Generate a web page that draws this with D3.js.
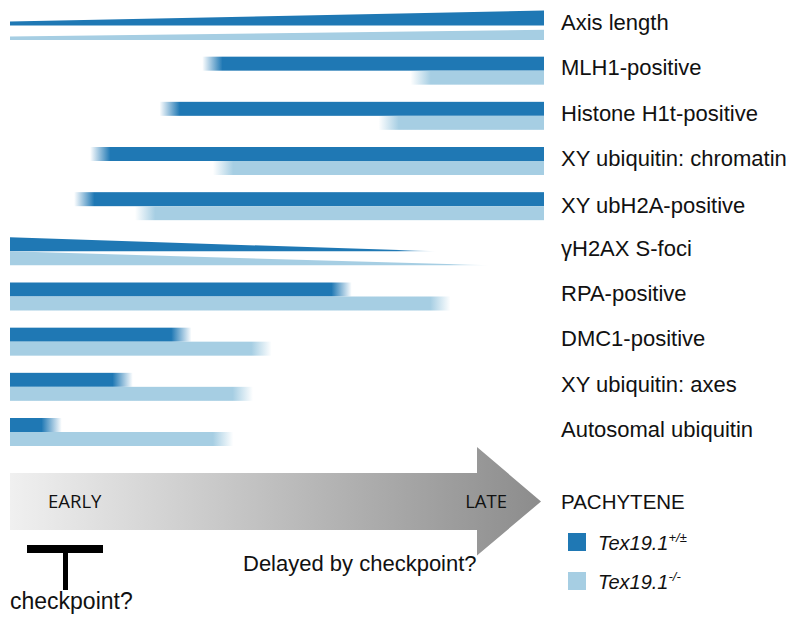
<!DOCTYPE html>
<html><head><meta charset="utf-8">
<script src="https://cdn.jsdelivr.net/npm/d3@7"></script>
<style>body{margin:0;background:#fff}svg{display:block}</style>
</head><body><svg id="c" width="800" height="625"></svg>
<script>
// ---- data ----
const categories = ["Axis length","MLH1-positive","Histone H1t-positive","XY ubiquitin: chromatin","XY ubH2A-positive","γH2AX S-foci","RPA-positive","DMC1-positive","XY ubiquitin: axes","Autosomal ubiquitin"];
const shapes = ["grow","onset","onset","onset","onset","decline","offset","offset","offset","offset"];
const wtStart = [0, 36, 28, 15, 12, 0, 0, 0, 0, 0];
const wtEnd   = [100, 100, 100, 100, 100, 80, 64, 34, 23, 9.7];
const koStart = [0, 75, 69, 38, 23.4, 0, 0, 0, 0, 0];
const koEnd   = [100, 100, 100, 100, 100, 90, 82.5, 49, 45.5, 41.8];
const fadeLen = 3.8;
const seriesNames = ["Tex19.1", "Tex19.1"];
const seriesSup = ["+/±", "-/-"];
const colors = ["#1f78b4", "#a6cee3"];
const stageLabels = ["EARLY", "LATE"];

const svg = d3.select("#c");
const defs = svg.append("defs");
const x = d3.scaleLinear().domain([0, 100]).range([10, 544]);
const y = d3.scalePoint().domain(categories).range([25.5, 432]);
const bh = 14;

let gid = 0;
function grad(x1, x2, color, o1, o2) {
  const id = "g" + (gid++);
  const g = defs.append("linearGradient").attr("id", id)
    .attr("gradientUnits", "userSpaceOnUse")
    .attr("x1", x1).attr("x2", x2).attr("y1", 0).attr("y2", 0);
  g.append("stop").attr("offset", 0).attr("stop-color", color).attr("stop-opacity", o1);
  g.append("stop").attr("offset", 1).attr("stop-color", color).attr("stop-opacity", o2);
  return "url(#" + id + ")";
}

const gBars = svg.append("g");
categories.forEach((cat, i) => {
  const b = y(cat);
  const sh = shapes[i];
  [[wtStart[i], wtEnd[i], 0], [koStart[i], koEnd[i], 1]].forEach(([s, e, k]) => {
    const col = colors[k];
    const top = k === 0 ? b - bh : b;
    if (sh === "grow") {
      const pts = k === 0
        ? [[x(s), b - 4], [x(e), b - 15], [x(e), b], [x(s), b]]
        : [[x(s), b + 11], [x(e), b + 4.3], [x(e), b + 14.5], [x(s), b + 14.5]];
      gBars.append("path").attr("d", d3.line()(pts) + "Z").attr("fill", col);
    } else if (sh === "decline") {
      const pts = k === 0
        ? [[x(s), b - bh], [x(e), b], [x(s), b]]
        : [[x(s), b], [x(e), b + bh], [x(s), b + bh]];
      gBars.append("path").attr("d", d3.line()(pts) + "Z")
        .attr("fill", grad(x(e - fadeLen * 2), x(e), col, 1, 0));
    } else if (sh === "onset") {
      gBars.append("rect").attr("x", x(s)).attr("y", top).attr("width", x(e) - x(s)).attr("height", bh)
        .attr("fill", grad(x(s), x(s + fadeLen), col, 0, 1));
    } else {
      gBars.append("rect").attr("x", x(s)).attr("y", top).attr("width", x(e) - x(s)).attr("height", bh)
        .attr("fill", grad(x(e - fadeLen), x(e), col, 1, 0));
    }
  });
});

const sans = "Liberation Sans, Arial, sans-serif";
// row labels
svg.append("g").selectAll("text").data(categories).join("text")
  .attr("x", 561).attr("y", (d, i) => y(d) - 3 + (i === 4 ? 2 : 0)).attr("dy", "0.35em")
  .attr("font-family", sans).attr("font-size", 22)
  .attr("fill", "#111").text(d => d);

// progression arrow
const ag = defs.append("linearGradient").attr("id", "arrowG").attr("x1", 0).attr("x2", 1);
ag.append("stop").attr("offset", 0).attr("stop-color", "#f0f0f0");
ag.append("stop").attr("offset", 1).attr("stop-color", "#8c8c8c");
const ax0 = 10, ax1 = 477, tip = 541, cy = 501.5;
svg.append("path")
  .attr("d", d3.line()([[ax0, cy - 28.5], [ax1, cy - 28.5], [ax1, cy - 54.5], [tip, cy], [ax1, cy + 54], [ax1, cy + 28.5], [ax0, cy + 28.5]]) + "Z")
  .attr("fill", "url(#arrowG)");
svg.append("text").attr("x", 48).attr("y", 508).attr("font-family", "Open Sans, sans-serif")
  .attr("font-size", 18.5).attr("fill", "#111").text(stageLabels[0]);
svg.append("text").attr("x", 507).attr("y", 508).attr("text-anchor", "end").attr("font-family", "Open Sans, sans-serif")
  .attr("font-size", 18.5).attr("fill", "#111").text(stageLabels[1]);

// checkpoint T
svg.append("rect").attr("x", 27).attr("y", 545).attr("width", 76).attr("height", 8).attr("fill", "#000");
svg.append("rect").attr("x", 63).attr("y", 553).attr("width", 5).attr("height", 37).attr("fill", "#000");
svg.append("text").attr("x", 10).attr("y", 609).attr("font-family", sans)
  .attr("font-size", 23).attr("fill", "#111").text("checkpoint?");
svg.append("text").attr("x", 243).attr("y", 571).attr("font-family", sans)
  .attr("font-size", 22).attr("fill", "#111").text("Delayed by checkpoint?");

// legend
svg.append("text").attr("x", 561).attr("y", 508.5).attr("font-family", sans)
  .attr("font-size", 20.5).attr("fill", "#111").text("PACHYTENE");
const leg = svg.append("g").selectAll("g").data(seriesNames).join("g")
  .attr("transform", (d, i) => `translate(568, ${533 + i * 39})`);
leg.append("rect").attr("width", 18).attr("height", 18).attr("fill", (d, i) => colors[i]);
const lt = leg.append("text").attr("x", 30).attr("y", 17)
  .attr("font-family", sans).attr("font-size", 20)
  .attr("font-style", "italic").attr("fill", "#111");
lt.append("tspan").text(d => d);
lt.append("tspan").attr("font-size", 13).attr("dy", -8).text((d, i) => seriesSup[i]);
</script></body></html>
